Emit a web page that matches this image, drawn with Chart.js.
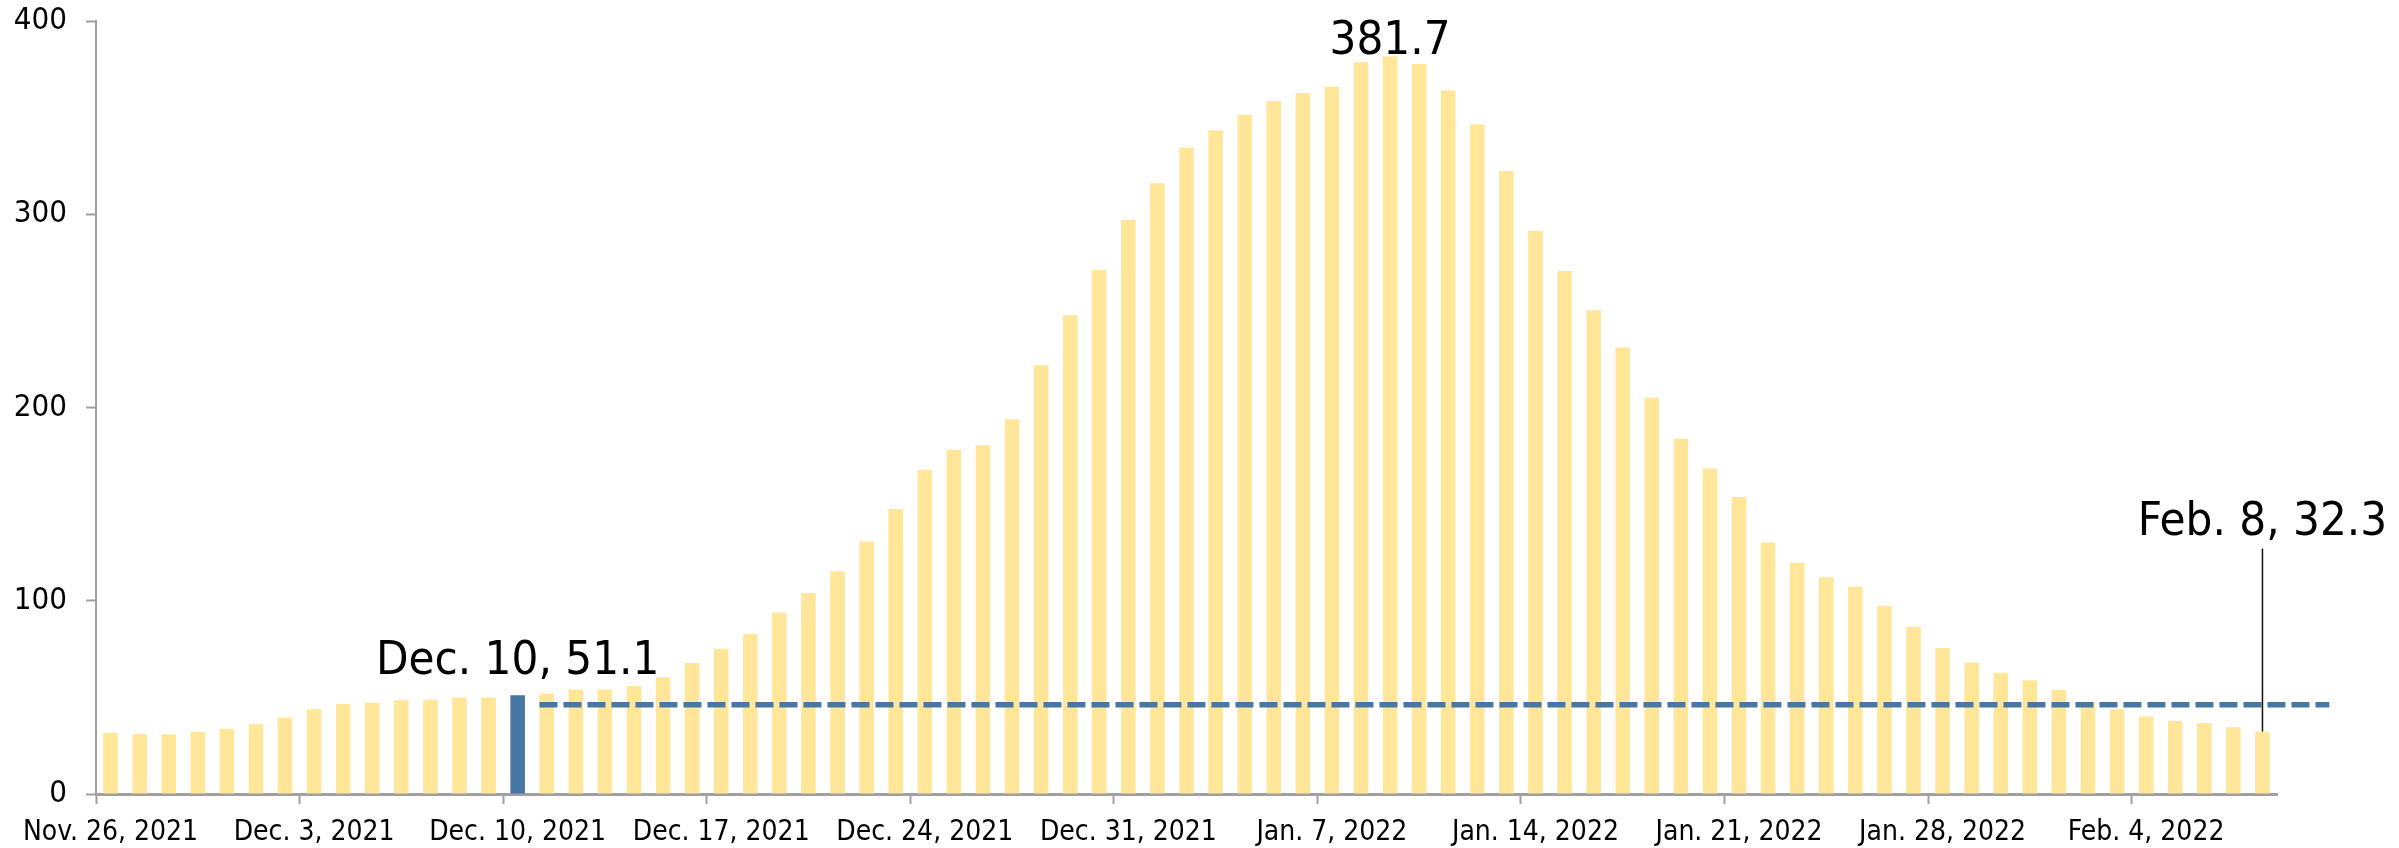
<!DOCTYPE html>
<html>
<head>
<meta charset="utf-8">
<script src="https://cdn.jsdelivr.net/npm/chart.js@4.4.1/dist/chart.umd.min.js"></script>
<style>
  html, body { margin: 0; padding: 0; background: #ffffff; }
  #wrap { width: 2399px; height: 848px; }
</style>
</head>
<body>
<div id="wrap"><canvas id="c" width="2399" height="848"></canvas></div>
<script>
// ---- DATA ----
const categories = [
  "Nov. 26, 2021","Nov. 27, 2021","Nov. 28, 2021","Nov. 29, 2021","Nov. 30, 2021",
  "Dec. 1, 2021","Dec. 2, 2021","Dec. 3, 2021","Dec. 4, 2021","Dec. 5, 2021","Dec. 6, 2021","Dec. 7, 2021",
  "Dec. 8, 2021","Dec. 9, 2021","Dec. 10, 2021","Dec. 11, 2021","Dec. 12, 2021","Dec. 13, 2021","Dec. 14, 2021",
  "Dec. 15, 2021","Dec. 16, 2021","Dec. 17, 2021","Dec. 18, 2021","Dec. 19, 2021","Dec. 20, 2021","Dec. 21, 2021",
  "Dec. 22, 2021","Dec. 23, 2021","Dec. 24, 2021","Dec. 25, 2021","Dec. 26, 2021","Dec. 27, 2021","Dec. 28, 2021",
  "Dec. 29, 2021","Dec. 30, 2021","Dec. 31, 2021",
  "Jan. 1, 2022","Jan. 2, 2022","Jan. 3, 2022","Jan. 4, 2022","Jan. 5, 2022","Jan. 6, 2022","Jan. 7, 2022",
  "Jan. 8, 2022","Jan. 9, 2022","Jan. 10, 2022","Jan. 11, 2022","Jan. 12, 2022","Jan. 13, 2022","Jan. 14, 2022",
  "Jan. 15, 2022","Jan. 16, 2022","Jan. 17, 2022","Jan. 18, 2022","Jan. 19, 2022","Jan. 20, 2022","Jan. 21, 2022",
  "Jan. 22, 2022","Jan. 23, 2022","Jan. 24, 2022","Jan. 25, 2022","Jan. 26, 2022","Jan. 27, 2022","Jan. 28, 2022",
  "Jan. 29, 2022","Jan. 30, 2022","Jan. 31, 2022",
  "Feb. 1, 2022","Feb. 2, 2022","Feb. 3, 2022","Feb. 4, 2022","Feb. 5, 2022","Feb. 6, 2022","Feb. 7, 2022","Feb. 8, 2022"
];

const values = [
  31.7, 31.1, 30.9, 32.2, 33.8,
  36.1, 39.6, 43.8, 46.7, 47.2, 48.5, 48.8,
  49.9, 49.9, 51.1, 52.0, 54.1, 54.1, 55.9,
  60.4, 67.8, 75.2, 82.8, 93.9, 104.0, 115.3,
  130.6, 147.5, 167.8, 178.1, 180.5, 193.9, 221.9,
  247.8, 271.2, 297.1,
  316.1, 334.6, 343.5, 351.5, 358.6, 362.8, 366.0,
  378.6, 381.7, 377.8, 364.1, 346.4, 322.4, 291.5,
  270.6, 250.3, 231.0, 205.1, 183.8, 168.4, 153.7,
  130.2, 119.6, 112.2, 107.2, 97.4, 86.6, 75.5,
  68.1, 62.8, 58.9,
  53.9, 47.5, 43.8, 40.1, 37.8, 36.7, 34.6, 32.3
];

const tickLabels = [
  "Nov. 26, 2021","Dec. 3, 2021","Dec. 10, 2021","Dec. 17, 2021","Dec. 24, 2021",
  "Dec. 31, 2021","Jan. 7, 2022","Jan. 14, 2022","Jan. 21, 2022","Jan. 28, 2022","Feb. 4, 2022"
];
const yTicks = [0, 100, 200, 300, 400];

const highlightCategory = "Dec. 10, 2021";
const peakCategory = "Jan. 9, 2022";
const lastCategory = "Feb. 8, 2022";
const referenceLevel = 46.2;

const annotationTexts = ["Dec. 10, 51.1", "381.7", "Feb. 8, 32.3"];

// ---- STYLE ----
const YELLOW = "#FFE699";
const BLUE = "#4677A5";
const AXIS = "#A0A0A0";
const FONT = 'Tahoma, "DejaVu Sans Condensed", "DejaVu Sans", sans-serif';
const BAR_PCT = 0.5;

const highlightIndex = categories.indexOf(highlightCategory);
const peakIndex = categories.indexOf(peakCategory);
const lastIndex = categories.indexOf(lastCategory);

const annotationPlugin = {
  id: 'annotations',
  afterDatasetsDraw(chart) {
    const { ctx, scales: { x, y } } = chart;
    const catW = x.getPixelForValue(1) - x.getPixelForValue(0);
    ctx.save();
    // dashed reference line
    const yRef = y.getPixelForValue(referenceLevel);
    const xStart = x.getPixelForValue(highlightIndex + 1) - catW * BAR_PCT / 2;
    const xEnd = x.getPixelForValue(lastIndex) + catW * 2.3;
    ctx.strokeStyle = BLUE;
    ctx.lineWidth = 5.5;
    ctx.setLineDash([18, 6]);
    ctx.beginPath();
    ctx.moveTo(xStart, yRef);
    ctx.lineTo(xEnd, yRef);
    ctx.stroke();
    ctx.setLineDash([]);

    // leader line for last bar
    const xl = x.getPixelForValue(lastIndex);
    ctx.strokeStyle = "#111111";
    ctx.lineWidth = 1.5;
    ctx.beginPath();
    ctx.moveTo(xl, y.getPixelForValue(values[lastIndex]));
    ctx.lineTo(xl, y.getPixelForValue(127));
    ctx.stroke();

    // texts
    ctx.fillStyle = "#000000";
    ctx.font = '47px ' + FONT;
    ctx.textAlign = 'center';
    ctx.textBaseline = 'alphabetic';
    ctx.fillText(annotationTexts[0], x.getPixelForValue(highlightIndex), y.getPixelForValue(values[highlightIndex]) - 21);
    ctx.fillText(annotationTexts[1], x.getPixelForValue(peakIndex), y.getPixelForValue(values[peakIndex]) - 2);
    ctx.fillText(annotationTexts[2], xl, y.getPixelForValue(134));
    ctx.restore();
  }
};

new Chart(document.getElementById('c'), {
  type: 'bar',
  data: {
    labels: categories,
    datasets: [{
      data: values,
      backgroundColor: categories.map((c) => c === highlightCategory ? BLUE : YELLOW),
      borderWidth: 0,
      barPercentage: BAR_PCT,
      categoryPercentage: 1.0
    }]
  },
  options: {
    responsive: false,
    devicePixelRatio: 1,
    animation: false,
    layout: { padding: { left: 0, right: 122, top: 21, bottom: 0 } },
    plugins: { legend: { display: false }, tooltip: { enabled: false } },
    scales: {
      x: {
        type: 'category',
        offset: true,
        grid: {
          offset: true,
          drawOnChartArea: false,
          drawTicks: true,
          tickLength: 10,
          tickWidth: 2,
          tickColor: (ctx) => (ctx.index < categories.length && tickLabels.includes(categories[ctx.index])) ? AXIS : 'rgba(0,0,0,0)'
        },
        border: { display: true, color: AXIS, width: 3 },
        ticks: {
          autoSkip: false,
          maxRotation: 0,
          minRotation: 0,
          padding: 12,
          color: '#000000',
          font: { family: FONT, size: 28 },
          callback: function (value, index) {
            const lab = categories[index];
            return tickLabels.includes(lab) ? lab : '';
          }
        },
        afterFit: (scale) => { scale.height = 54; scale.paddingLeft = 0; scale.paddingRight = 0; }
      },
      y: {
        min: 0,
        max: 400,
        afterBuildTicks: (scale) => { scale.ticks = yTicks.map((v) => ({ value: v })); },
        grid: {
          drawOnChartArea: false,
          drawTicks: true,
          tickLength: 10,
          tickWidth: 2,
          tickColor: AXIS
        },
        border: { display: true, color: AXIS, width: 2 },
        ticks: {
          padding: 19,
          color: '#000000',
          font: { family: FONT, size: 31 }
        },
        afterFit: (scale) => { scale.width = 96; scale.paddingTop = 0; scale.paddingBottom = 0; }
      }
    }
  },
  plugins: [annotationPlugin]
});
</script>
</body>
</html>
